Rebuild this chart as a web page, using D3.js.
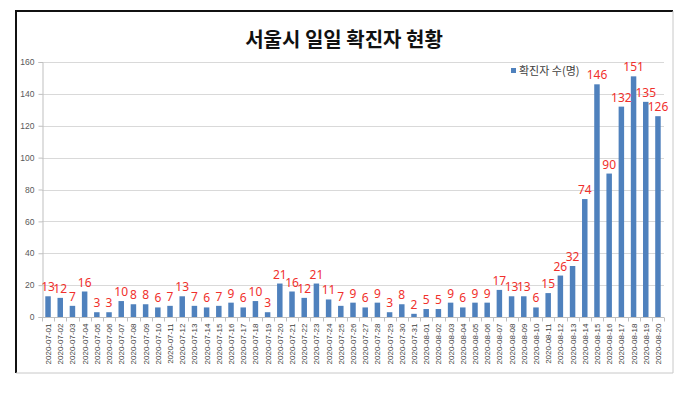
<!DOCTYPE html>
<html>
<head>
<meta charset="utf-8">
<script src="https://cdn.jsdelivr.net/npm/d3@7"></script>
<style>
  body { margin: 0; background: #fff; }
  svg { display: block; font-family: "Noto Sans CJK KR", "Liberation Sans", sans-serif; }
</style>
</head>
<body>
<svg id="chart" width="686" height="394"></svg>
<script>
var dates = [
  "2020-07-01","2020-07-02","2020-07-03","2020-07-04","2020-07-05","2020-07-06","2020-07-07",
  "2020-07-08","2020-07-09","2020-07-10","2020-07-11","2020-07-12","2020-07-13","2020-07-14",
  "2020-07-15","2020-07-16","2020-07-17","2020-07-18","2020-07-19","2020-07-20","2020-07-21",
  "2020-07-22","2020-07-23","2020-07-24","2020-07-25","2020-07-26","2020-07-27","2020-07-28",
  "2020-07-29","2020-07-30","2020-07-31","2020-08-01","2020-08-02","2020-08-03","2020-08-04",
  "2020-08-05","2020-08-06","2020-08-07","2020-08-08","2020-08-09","2020-08-10","2020-08-11",
  "2020-08-12","2020-08-13","2020-08-14","2020-08-15","2020-08-16","2020-08-17","2020-08-18",
  "2020-08-19","2020-08-20"
];
var cases = [
  13,12,7,16,3,3,10,8,8,6,7,13,7,6,7,9,6,10,3,21,16,12,21,11,7,9,6,9,3,8,2,
  5,5,9,6,9,9,17,13,13,6,15,26,32,74,146,90,132,151,135,126
];
var yTicks = [0,20,40,60,80,100,120,140,160];
var title = "서울시 일일 확진자 현황";
var seriesName = "확진자 수(명)";

var svg = d3.select("#chart");
var margin = { top: 62, left: 42, right: 22, bottom: 77 };
var W = 686, H = 394;

// frame
svg.append("line").attr("x1", 16).attr("x2", 16).attr("y1", 11).attr("y2", 373)
  .attr("stroke", "#111").attr("stroke-width", 2);
svg.append("line").attr("x1", 15).attr("x2", 673).attr("y1", 11).attr("y2", 11)
  .attr("stroke", "#111").attr("stroke-width", 2);
svg.append("line").attr("x1", 673).attr("x2", 673).attr("y1", 11).attr("y2", 373)
  .attr("stroke", "#c8c8c8").attr("stroke-width", 1);
svg.append("line").attr("x1", 16).attr("x2", 673).attr("y1", 373).attr("y2", 373)
  .attr("stroke", "#c8c8c8").attr("stroke-width", 1);

var x = d3.scaleBand()
  .domain(dates)
  .range([margin.left, W - margin.right])
  .paddingInner(0.55)
  .paddingOuter(0.27);

var y = d3.scaleLinear()
  .domain([0, 160])
  .range([H - margin.bottom, margin.top]);

// gridlines
svg.append("g").selectAll("line")
  .data(yTicks.filter(function(d) { return d > 0; }))
  .join("line")
  .attr("x1", margin.left).attr("x2", W - margin.right)
  .attr("y1", function(d) { return Math.round(y(d)) + 0.5; })
  .attr("y2", function(d) { return Math.round(y(d)) + 0.5; })
  .attr("stroke", "#d9d9d9");

// y axis
var yAxis = svg.append("g")
  .attr("transform", "translate(" + (margin.left + 0.5) + ",0)")
  .call(d3.axisLeft(y).tickValues(yTicks).tickSize(4).tickPadding(4));
yAxis.select(".domain").attr("stroke", "#bfbfbf");
yAxis.selectAll(".tick line").attr("stroke", "#bfbfbf");
yAxis.selectAll("text").attr("fill", "#595959").style("font-size", "8.5px")
  .style("font-family", "Liberation Sans, sans-serif");

// bars
svg.append("g").selectAll("rect")
  .data(dates)
  .join("rect")
  .attr("x", function(d) { return x(d); })
  .attr("width", x.bandwidth())
  .attr("y", function(d, i) { return y(cases[i]); })
  .attr("height", function(d, i) { return y(0) - y(cases[i]); })
  .attr("fill", "#4f81bd");

// x axis
var step = x.step();
var xAxis = svg.append("g")
  .attr("transform", "translate(0," + (Math.round(y(0)) + 0.5) + ")");
xAxis.append("line")
  .attr("x1", margin.left).attr("x2", W - margin.right)
  .attr("stroke", "#bfbfbf");
xAxis.selectAll(".tk")
  .data(d3.range(dates.length + 1))
  .join("line")
  .attr("class", "tk")
  .attr("x1", function(i) { return Math.round(margin.left + i * step) + 0.5; })
  .attr("x2", function(i) { return Math.round(margin.left + i * step) + 0.5; })
  .attr("y1", 0).attr("y2", 4)
  .attr("stroke", "#bfbfbf");
xAxis.selectAll("text")
  .data(dates)
  .join("text")
  .attr("transform", function(d) {
    return "translate(" + (x(d) + x.bandwidth() / 2 + 3) + ",6) rotate(-90)";
  })
  .attr("text-anchor", "end")
  .attr("fill", "#404040")
  .style("font-size", "8px")
  .style("font-family", "Liberation Sans, sans-serif")
  .text(function(d) { return d; });

// value labels
svg.append("g").selectAll("text")
  .data(dates)
  .join("text")
  .attr("x", function(d) { return x(d) + x.bandwidth() / 2; })
  .attr("y", function(d, i) { return y(cases[i]) - 5; })
  .attr("text-anchor", "middle")
  .attr("fill", "#f0302c")
  .style("font-size", "12px")
  .style("font-family", "Noto Sans, sans-serif")
  .text(function(d, i) { return cases[i]; });

// title
svg.append("text")
  .attr("x", 344).attr("y", 47)
  .attr("text-anchor", "middle")
  .attr("fill", "#111")
  .style("font-size", "20px")
  .style("font-weight", "bold")
  .text(title);

// legend
svg.append("rect").attr("x", 511).attr("y", 68).attr("width", 5).attr("height", 5)
  .attr("fill", "#4f81bd");
svg.append("text").attr("x", 519).attr("y", 75)
  .attr("fill", "#404040")
  .style("font-size", "11px")
  .text(seriesName);
</script>
</body>
</html>
